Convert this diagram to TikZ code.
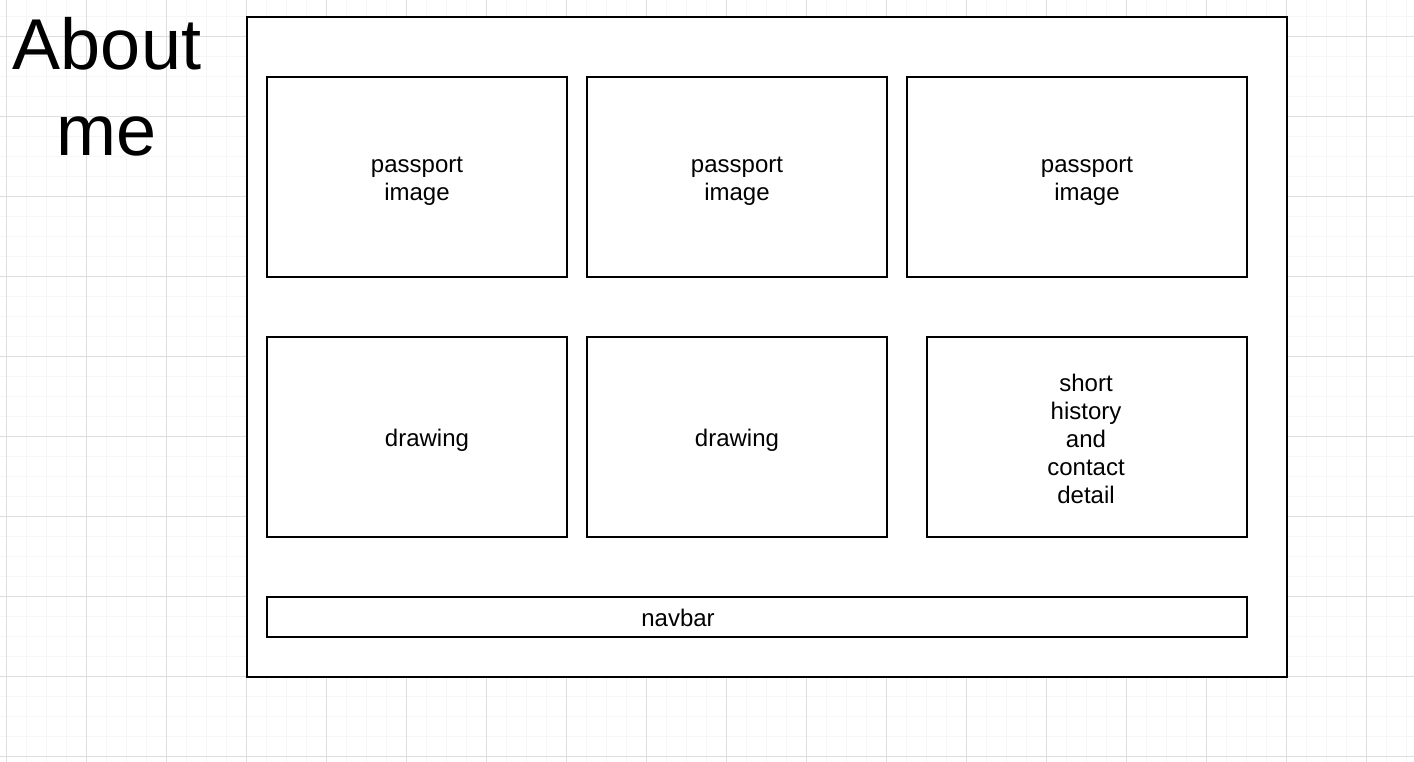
\documentclass[tikz,border=0pt]{standalone}
\usepackage{fontspec}
\setmainfont{Liberation Sans}
\definecolor{gridminor}{HTML}{F6F6F6}
\definecolor{gridmajor}{HTML}{DEDEDE}
\begin{document}
\begin{tikzpicture}[x=1pt,y=-1pt,
  box/.style={draw=black, line width=2pt, fill=white, inner sep=0pt, outer sep=0pt},
  lbl/.style={align=center, font=\fontsize{24}{28}\selectfont, inner sep=0pt},
  title/.style={align=center, font=\fontsize{72}{86}\selectfont, inner sep=0pt}]
\useasboundingbox (0,0) rectangle (1414,762);
\fill[white] (0,0) rectangle (1414,762);
\foreach \i in {0,...,70} {
  \draw[gridminor, line width=1pt] ({6.5+20*\i},0) -- ({6.5+20*\i},762);
}
\foreach \i in {0,...,38} {
  \draw[gridminor, line width=1pt] (0,{16.5+20*\i}) -- (1414,{16.5+20*\i});
}
\foreach \i in {0,...,17} {
  \draw[gridmajor, line width=1pt] ({6.5+80*\i},0) -- ({6.5+80*\i},762);
}
\foreach \i in {0,...,9} {
  \draw[gridmajor, line width=1pt] (0,{36.5+80*\i}) -- (1414,{36.5+80*\i});
}
\node[title] (about) at (107,87) {About\\me};
\node[box, minimum width=1040pt, minimum height=660pt] (frame) at (767,347) {};
\node[box, minimum width=300pt, minimum height=200pt] (p1) at (417,177) {};
\node[box, minimum width=300pt, minimum height=200pt] (p2) at (737,177) {};
\node[box, minimum width=340pt, minimum height=200pt] (p3) at (1077,177) {};
\node[box, minimum width=300pt, minimum height=200pt] (d1) at (417,437) {};
\node[box, minimum width=300pt, minimum height=200pt] (d2) at (737,437) {};
\node[box, minimum width=320pt, minimum height=200pt] (hist) at (1087,437) {};
\node[box, minimum width=980pt, minimum height=40pt] (nav) at (757,617) {};
\node[lbl] (p1t) at (417,181) {passport\\image};
\node[lbl] (p2t) at (737,181) {passport\\image};
\node[lbl] (p3t) at (1087,181) {passport\\image};
\node[lbl] (d1t) at (427,440) {drawing};
\node[lbl] (d2t) at (737,440) {drawing};
\node[lbl] (histt) at (1086,438.5) {short\\history\\and\\contact\\detail};
\node[lbl] (navt) at (678,618) {navbar};
\end{tikzpicture}
\end{document}
